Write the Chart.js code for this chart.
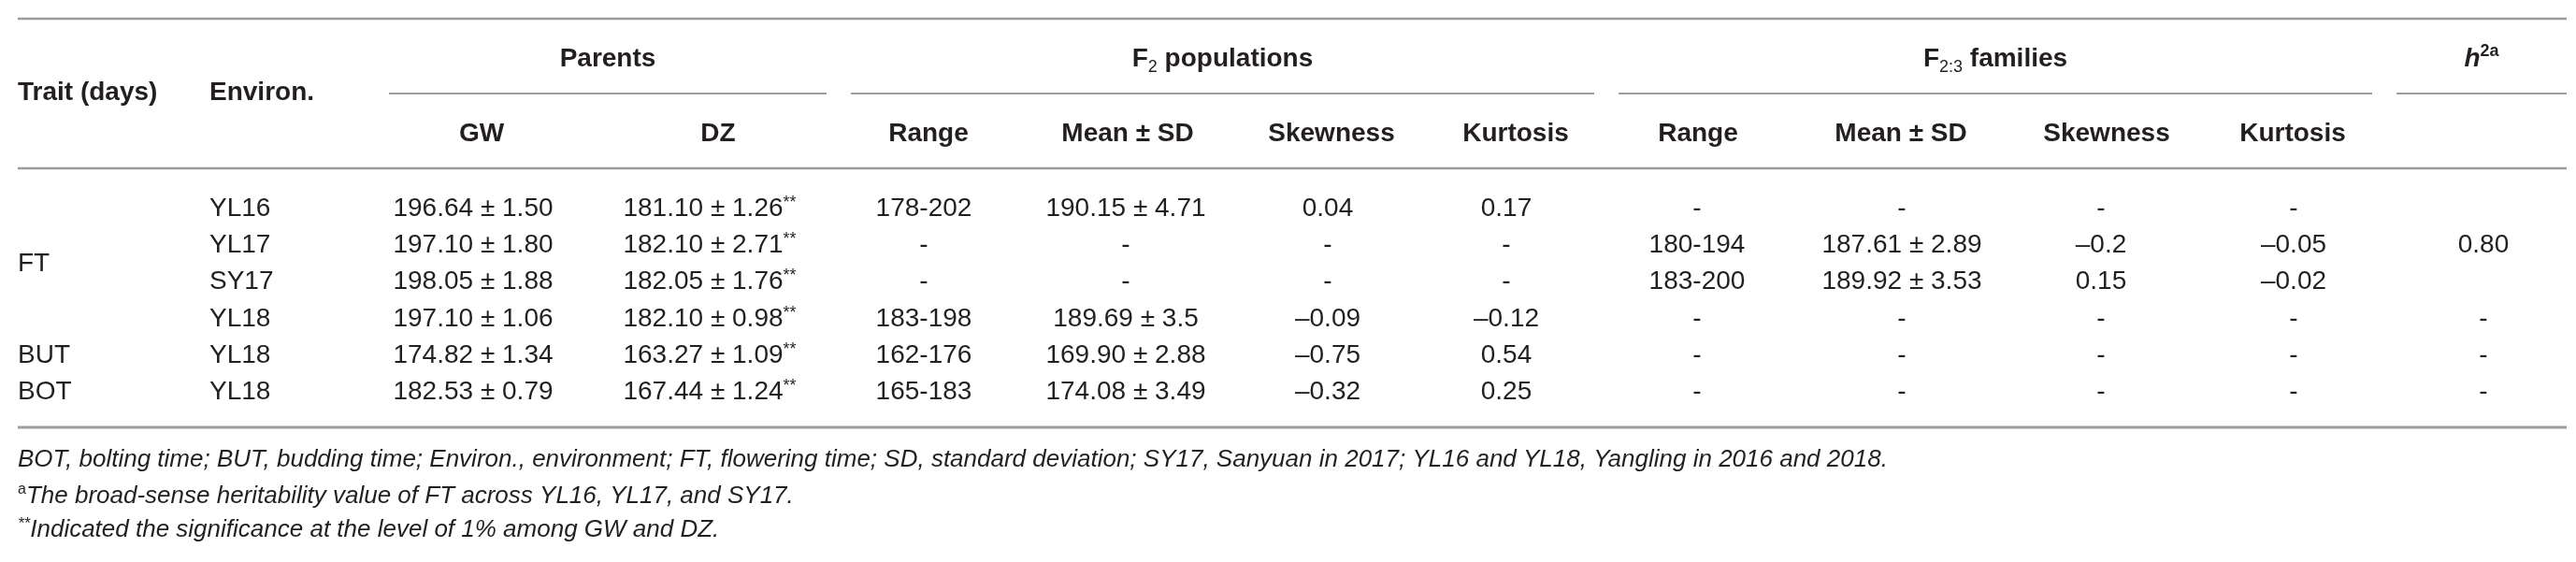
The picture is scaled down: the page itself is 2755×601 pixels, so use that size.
<!DOCTYPE html>
<html>
<head>
<meta charset="utf-8">
<script src="https://cdn.jsdelivr.net/npm/chart.js@4.4.0/dist/chart.umd.min.js"></script>
<style>
  html, body { margin: 0; padding: 0; background: #fff; }
  #wrap { width: 2755px; height: 601px; position: relative; }
</style>
</head>
<body>
<div id="wrap"><canvas id="tbl" width="2755" height="601"></canvas></div>
<script>
// Table contents
const traits = ['FT', 'BUT', 'BOT'];
const traitSpans = [[0, 3], [4, 4], [5, 5]];
const environs = ['YL16', 'YL17', 'SY17', 'YL18', 'YL18', 'YL18'];

const groupHeaders = ['Parents', 'F2 populations', 'F2:3 families', 'h2a'];
const subHeaders = ['GW', 'DZ', 'Range', 'Mean ± SD', 'Skewness', 'Kurtosis',
                    'Range', 'Mean ± SD', 'Skewness', 'Kurtosis', ''];

const gwMean = ['196.64 ± 1.50', '197.10 ± 1.80', '198.05 ± 1.88', '197.10 ± 1.06', '174.82 ± 1.34', '182.53 ± 0.79'];
const dzMean = ['181.10 ± 1.26', '182.10 ± 2.71', '182.05 ± 1.76', '182.10 ± 0.98', '163.27 ± 1.09', '167.44 ± 1.24'];
const f2Range = ['178-202', '-', '-', '183-198', '162-176', '165-183'];
const f2Mean = ['190.15 ± 4.71', '-', '-', '189.69 ± 3.5', '169.90 ± 2.88', '174.08 ± 3.49'];
const f2Skew = ['0.04', '-', '-', '–0.09', '–0.75', '–0.32'];
const f2Kurt = ['0.17', '-', '-', '–0.12', '0.54', '0.25'];
const f23Range = ['-', '180-194', '183-200', '-', '-', '-'];
const f23Mean = ['-', '187.61 ± 2.89', '189.92 ± 3.53', '-', '-', '-'];
const f23Skew = ['-', '–0.2', '0.15', '-', '-', '-'];
const f23Kurt = ['-', '–0.05', '–0.02', '-', '-', '-'];
const heritability = ['', '0.80', '', '-', '-', '-'];

const footnotes = [
  'BOT, bolting time; BUT, budding time; Environ., environment; FT, flowering time; SD, standard deviation; SY17, Sanyuan in 2017; YL16 and YL18, Yangling in 2016 and 2018.',
  'The broad-sense heritability value of FT across YL16, YL17, and SY17.',
  'Indicated the significance at the level of 1% among GW and DZ.'
];

const valueColumns = [gwMean, dzMean, f2Range, f2Mean, f2Skew, f2Kurt,
                      f23Range, f23Mean, f23Skew, f23Kurt, heritability];

// Layout (in scale units = px)
const LEFT = 19, RIGHT = 2745;
const headX = [515, 768, 993, 1206, 1424, 1621, 1816, 2033, 2253, 2452, 2655];
const cellX = [506, 759, 988, 1204, 1420, 1611, 1815, 2034, 2247, 2453, 2656];
const groupSpans = [[416, 884], [910, 1705], [1731, 2537], [2563, 2745]];
const envX = 224;
const rowBase0 = 231, rowStep = 39.2;
const footBase = [499, 538, 574];

const TEXT = '#231f20';
const RULE = '#9d9d9d';
const FAM = '"Liberation Sans", Arial, sans-serif';

function font(size, style) {
  return (style || '') + ' ' + size + 'px ' + FAM;
}

// draw runs of text with varying size / vertical shift
function drawRuns(ctx, runs, x, y, align) {
  let total = 0;
  runs.forEach(r => { ctx.font = r.font; total += ctx.measureText(r.t).width; });
  let cx = align === 'center' ? x - total / 2 : (align === 'right' ? x - total : x);
  ctx.textAlign = 'left';
  runs.forEach(r => {
    ctx.font = r.font;
    ctx.fillText(r.t, cx, y + (r.dy || 0));
    cx += ctx.measureText(r.t).width;
  });
}

const tablePlugin = {
  id: 'tableCells',
  afterDraw(chart) {
    const ctx = chart.ctx;
    const xs = chart.scales.x, ys = chart.scales.y;
    const px = v => xs.getPixelForValue(v);
    const py = v => ys.getPixelForValue(v);
    const rowY = i => py(rowBase0 + i * rowStep);

    ctx.save();
    ctx.fillStyle = TEXT;
    ctx.textBaseline = 'alphabetic';

    // rules
    ctx.strokeStyle = RULE;
    const hline = (x1, x2, y, w) => {
      ctx.lineWidth = w;
      ctx.beginPath();
      ctx.moveTo(px(x1), py(y));
      ctx.lineTo(px(x2), py(y));
      ctx.stroke();
    };
    hline(LEFT, RIGHT, 20, 2.5);
    groupSpans.forEach(s => hline(s[0], s[1], 100, 2));
    hline(LEFT, RIGHT, 180, 2.5);
    hline(LEFT, RIGHT, 457, 3);

    // header
    const B = font(28, 'bold');
    const BS = font(18, '');
    drawRuns(ctx, [{ t: 'Trait (days)', font: B }], px(LEFT), py(107), 'left');
    drawRuns(ctx, [{ t: 'Environ.', font: B }], px(envX), py(107), 'left');

    const gCenters = groupSpans.map(s => (s[0] + s[1]) / 2);
    drawRuns(ctx, [{ t: groupHeaders[0], font: B }], px(gCenters[0]), py(71), 'center');
    drawRuns(ctx, [{ t: 'F', font: B }, { t: '2', font: BS, dy: 6 },
                   { t: ' populations', font: B }], px(gCenters[1]), py(71), 'center');
    drawRuns(ctx, [{ t: 'F', font: B }, { t: '2:3', font: BS, dy: 6 },
                   { t: ' families', font: B }], px(gCenters[2]), py(71), 'center');
    drawRuns(ctx, [{ t: 'h', font: font(28, 'italic bold') },
                   { t: '2a', font: font(18, 'bold'), dy: -11 }], px(gCenters[3]), py(71), 'center');

    subHeaders.forEach((h, j) => {
      if (h) drawRuns(ctx, [{ t: h, font: B }], px(headX[j]), py(151), 'center');
    });

    // body
    const R = font(28, '');
    traits.forEach((t, k) => {
      const s = traitSpans[k];
      const y = (rowY(s[0]) + rowY(s[1])) / 2;
      drawRuns(ctx, [{ t: t, font: R }], px(LEFT), y, 'left');
    });
    environs.forEach((e, i) => drawRuns(ctx, [{ t: e, font: R }], px(envX), rowY(i), 'left'));

    valueColumns.forEach((col, j) => {
      col.forEach((v, i) => {
        if (!v) return;
        const runs = [{ t: v, font: R }];
        if (col === dzMean) runs.push({ t: '**', font: font(18, ''), dy: -9 });
        drawRuns(ctx, runs, px(cellX[j]), rowY(i), 'center');
      });
    });

    // footnotes
    const I = font(26, 'italic');
    drawRuns(ctx, [{ t: footnotes[0], font: I }], px(LEFT), py(footBase[0]), 'left');
    drawRuns(ctx, [{ t: 'a', font: font(16, ''), dy: -10 }, { t: footnotes[1], font: I }],
             px(LEFT), py(footBase[1]), 'left');
    drawRuns(ctx, [{ t: '**', font: font(17, 'italic'), dy: -9 }, { t: footnotes[2], font: I }],
             px(LEFT), py(footBase[2]), 'left');
    ctx.restore();
  }
};

new Chart(document.getElementById('tbl'), {
  type: 'scatter',
  data: { datasets: [{ data: [], pointRadius: 0 }] },
  options: {
    responsive: false,
    animation: false,
    devicePixelRatio: 1,
    layout: { padding: 0 },
    plugins: { legend: { display: false }, tooltip: { enabled: false } },
    scales: {
      x: { type: 'linear', min: 0, max: 2755, display: false },
      y: { type: 'linear', min: 0, max: 601, reverse: true, display: false }
    }
  },
  plugins: [tablePlugin]
});
</script>
</body>
</html>
